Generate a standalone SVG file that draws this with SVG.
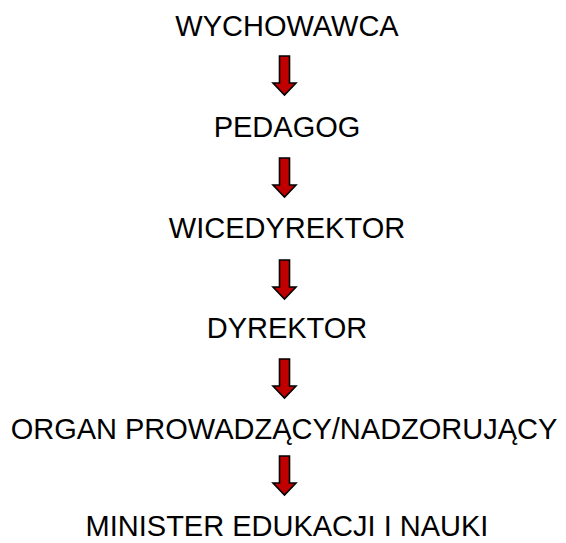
<svg xmlns="http://www.w3.org/2000/svg" width="566" height="543" viewBox="0 0 566 543">
<defs>
<style>
.t{font-family:"Liberation Sans",Arial,sans-serif;font-size:29px;fill:#000;text-anchor:middle}
.a{fill:#C00000;stroke:#000;stroke-width:1.6;stroke-linejoin:miter}
</style>
<path id="arr" d="M-5,0 H5 V27 H11.5 L0,39 L-11.5,27 H-5 Z"/>
</defs>
<rect width="566" height="543" fill="#fff"/>
<g id="connectors">
<use href="#arr" class="a" x="284.5" y="56"/>
<use href="#arr" class="a" x="284.5" y="158"/>
<use href="#arr" class="a" x="284.5" y="260"/>
<use href="#arr" class="a" x="284.5" y="359"/>
<use href="#arr" class="a" x="284.5" y="456"/>
</g>
<g id="n1"><text class="t" x="287" y="36">WYCHOWAWCA</text></g>
<g id="n2"><text class="t" x="287" y="137">PEDAGOG</text></g>
<g id="n3"><text class="t" x="287" y="238">WICEDYREKTOR</text></g>
<g id="n4"><text class="t" x="287" y="338">DYREKTOR</text></g>
<g id="n5"><text class="t" x="284" y="439">ORGAN PROWADZĄCY/NADZORUJĄCY</text></g>
<g id="n6"><text class="t" x="287" y="536">MINISTER EDUKACJI I NAUKI</text></g>
</svg>
